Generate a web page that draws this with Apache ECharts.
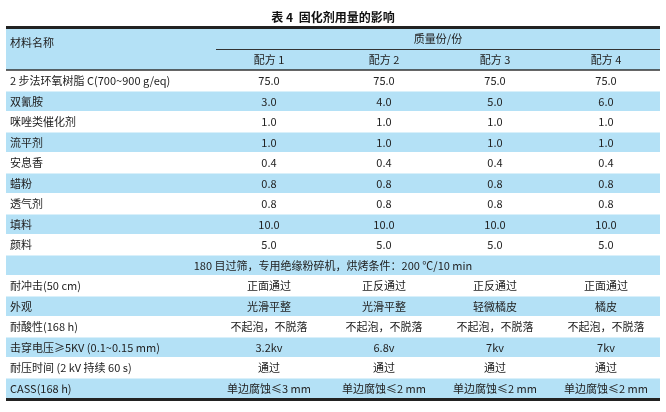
<!DOCTYPE html><html><head><meta charset="utf-8"><script src="https://cdn.jsdelivr.net/npm/echarts@6/dist/echarts.min.js"></script></head><body style="margin:0"><div id="c" style="width:666px;height:412px"></div><script>
const title = '表 4  固化剂用量的影响';
const headerGroup = '质量份/份';
const headerLabel = '材料名称';
const formulas = ['配方 1','配方 2','配方 3','配方 4'];
const materials = ['2 步法环氧树脂 C(700~900 g/eq)','双氰胺','咪唑类催化剂','流平剂','安息香','蜡粉','透气剂','填料','颜料'];
const f1 = ['75.0','3.0','1.0','1.0','0.4','0.8','0.8','10.0','5.0'];
const f2 = ['75.0','4.0','1.0','1.0','0.4','0.8','0.8','10.0','5.0'];
const f3 = ['75.0','5.0','1.0','1.0','0.4','0.8','0.8','10.0','5.0'];
const f4 = ['75.0','6.0','1.0','1.0','0.4','0.8','0.8','10.0','5.0'];
const noteRow = '180 目过筛，专用绝缘粉碎机，烘烤条件：200 ℃/10 min';
const tests = ['耐冲击(50 cm)','外观','耐酸性(168 h)','击穿电压≥5KV (0.1~0.15 mm)','耐压时间 (2 kV 持续 60 s)','CASS(168 h)'];
const t1 = ['正面通过','光滑平整','不起泡，不脱落','3.2kv','通过','单边腐蚀≤3 mm'];
const t2 = ['正反通过','光滑平整','不起泡，不脱落','6.8v','通过','单边腐蚀≤2 mm'];
const t3 = ['正反通过','轻微橘皮','不起泡，不脱落','7kv','通过','单边腐蚀≤2 mm'];
const t4 = ['正面通过','橘皮','不起泡，不脱落','7kv','通过','单边腐蚀≤2 mm'];

const rows = [];
materials.forEach((m,i)=>rows.push({type:'v',cells:[m,f1[i],f2[i],f3[i],f4[i]]}));
rows.push({type:'note',cells:[noteRow]});
tests.forEach((m,i)=>rows.push({type:'v',cells:[m,t1[i],t2[i],t3[i],t4[i]]}));

const X0=6,X1=660,HT=29,HB=70,RH=20.5,SUBX=216;
const colC=[269,384,495,606];
const BLUE='#b4e1f6', FONT='"Noto Sans CJK SC"', TC='#222';
const txt=(x,y,s,align,extra)=>({type:'text',style:Object.assign({x,y,text:s,align:align||'center',verticalAlign:'middle',font:'11px '+FONT,fill:TC},extra||{})});

const chart=echarts.init(document.getElementById('c'));
chart.setOption({
  animation:false,
  grid:{left:0,right:0,top:0,bottom:0},
  xAxis:{type:'value',min:0,max:666,show:false},
  yAxis:{type:'value',min:0,max:412,inverse:true,show:false},
  title:{text:title,left:'center',top:6,textStyle:{fontSize:12,fontWeight:'bold',fontFamily:FONT,color:'#111'}},
  series:[{
    type:'custom',coordinateSystem:'cartesian2d',
    data:[{value:[-1]}].concat(rows.map((r,i)=>({value:[i]}))),
    renderItem:(params,api)=>{
      const i=api.value(0);
      const p=(x,y)=>api.coord([x,y]);
      const ch=[];
      if(i<0){
        const a=p(X0,HT),b=p(X1,HB);
        ch.push({type:'rect',shape:{x:a[0],y:a[1],width:b[0]-a[0],height:b[1]-a[1]},style:{fill:BLUE}});
        ch.push({type:'rect',shape:{x:a[0],y:a[1]-3,width:b[0]-a[0],height:3},style:{fill:'#222'}});
        const s=p(SUBX,(HT+HB)/2);
        ch.push({type:'line',shape:{x1:s[0],y1:s[1],x2:b[0],y2:s[1]},style:{stroke:'#333',lineWidth:1}});
        ch.push({type:'line',shape:{x1:a[0],y1:b[1],x2:b[0],y2:b[1]},style:{stroke:'#333',lineWidth:1.5}});
        const l=p(10,(HT+HB)/2-7);
        ch.push(txt(l[0],l[1],headerLabel,'left'));
        const g=p((SUBX+X1)/2,HT+10);
        ch.push(txt(g[0],g[1],headerGroup));
        formulas.forEach((f,k)=>{const q=p(colC[k],HB-10);ch.push(txt(q[0],q[1],f));});
        return {type:'group',children:ch};
      }
      const r=rows[i];
      const top=HB+RH*i, a=p(X0,top), b=p(X1,top+RH);
      if(i%2===1) ch.push({type:'rect',shape:{x:a[0],y:a[1]+1,width:b[0]-a[0],height:b[1]-a[1]-1},style:{fill:BLUE}});
      const cy=(a[1]+b[1])/2+1;
      if(r.type==='note'){
        ch.push(txt((a[0]+b[0])/2,cy,r.cells[0]));
      } else {
        ch.push(txt(p(10,0)[0],cy,r.cells[0],'left'));
        for(let k=0;k<4;k++) ch.push(txt(p(colC[k],0)[0],cy,r.cells[k+1]));
      }
      if(i===rows.length-1) ch.push({type:'rect',shape:{x:a[0],y:b[1],width:b[0]-a[0],height:3},style:{fill:'#222'}});
      return {type:'group',children:ch};
    }
  }]
});
</script></body></html>
